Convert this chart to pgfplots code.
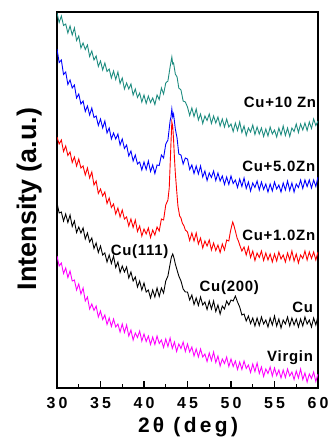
\documentclass[border=0pt]{standalone}
\usepackage{pgfplots}
\pgfplotsset{compat=1.18}
\usepackage{fontspec}
\setmainfont{Liberation Sans}
\definecolor{tealc}{RGB}{30,140,128}
\definecolor{magc}{RGB}{255,0,255}
\begin{document}
\begin{tikzpicture}
\useasboundingbox (-57bp,-54bp) rectangle (275bp,388bp);
\begin{axis}[
 scale only axis, width=261bp, height=376bp,
 xmin=30, xmax=60, ymin=0, ymax=376,
 ytick=\empty,
 xtick={30,35,...,60}, xticklabels={30,35,40,45,50,55,60},
 minor x tick num=1,
 xtick pos=bottom, tick align=inside,
 major tick length=7bp, minor tick length=3.5bp,
 axis line style={line width=1.6bp},
 every tick/.style={line width=1.2bp, black},
 xticklabel style={font=\fontsize{16}{16}\selectfont\bfseries\addfontfeatures{LetterSpace=20}, anchor=base, yshift=-20.5bp, inner sep=0pt},
 every axis plot/.append style={line width=0.9bp},
 every node/.append style={inner sep=0pt},
]
% Cu+10 Zn
\addplot[tealc] coordinates {
(30,375)(30.25,365.5)(30.5,372)(30.75,362.5)(31,364)(31.25,355)(31.5,362)(31.75,353)(32,360)(32.25,347.5)
(32.5,352)(32.75,340)(33,345)(33.25,338.5)(33.5,343)(33.75,331.5)(34,337)(34.25,328)(34.5,332)(34.75,321.5)
(35,327)(35.25,318)(35.5,325)(35.75,316.5)(36,319)(36.25,310)(36.5,317)(36.75,308.5)(37,316)(37.25,304.5)
(37.5,310)(37.75,299)(38,305)(38.25,299)(38.5,304)(38.75,293)(39,299)(39.25,290.5)(39.5,295)(39.75,286)
(40,293)(40.25,284.5)(40.5,292)(40.75,285.5)(41,290)(41.25,283.5)(41.5,293)(41.75,288.5)(42,300)(42.25,294)
(42.5,305)(42.75,307)(43,321)(43.1,326)(43.2,331)(43.3,324)(43.4,325)(43.6,314)(43.8,311)(44,300)(44.25,298)
(44.5,287)(44.75,286)(45,281)(45.25,272.5)(45.5,280)(45.75,271.5)(46,279)(46.25,268)(46.5,274)(46.75,264.5)
(47,272)(47.25,267.5)(47.5,274)(47.75,264.5)(48,272)(48.25,265)(48.5,271)(48.75,262)(49,269)(49.25,261)
(49.5,269)(49.75,261)(50,264)(50.25,256.5)(50.5,265)(50.75,257.5)(51,266)(51.25,255.5)(51.5,262)(51.75,252.5)
(52,260)(52.25,256)(52.5,263)(52.75,253.5)(53,261)(53.25,254)(53.5,260)(53.75,251.5)(54,259)(54.25,252)
(54.5,261)(54.75,254)(55,258)(55.25,251)(55.5,260)(55.75,253)(56,262)(56.25,252.5)(56.5,260)(56.75,251.5)
(57,260)(57.25,256.5)(57.5,264)(57.75,255.5)(58,264)(58.25,258)(58.5,265)(58.75,257.5)(59,266)(59.25,259.5)
(59.5,269)(59.75,262.5)(60,267)};
% Cu+5.0Zn
\addplot[blue] coordinates {
(30,339)(30.25,325.5)(30.5,328)(30.75,313.5)(31,316)(31.25,303.5)(31.5,308)(31.75,300)(32,303)(32.25,290)
(32.5,294)(32.75,284)(33,287)(33.25,276.5)(33.5,282)(33.75,273)(34,280)(34.25,270.5)(34.5,272)(34.75,262.5)
(35,269)(35.25,260)(35.5,267)(35.75,255)(36,260)(36.25,249)(36.5,255)(36.75,249)(37,254)(37.25,243)
(37.5,249)(37.75,239.5)(38,243)(38.25,232)(38.5,237)(38.75,227)(39,233)(39.25,224)(39.5,226)(39.75,218)
(40,226)(40.25,218.5)(40.5,227)(40.75,216.5)(41,223)(41.25,214.5)(41.5,223)(41.75,222.5)(42,233)(42.25,230)
(42.5,244)(42.75,248)(43,267)(43.1,271)(43.2,279)(43.3,271)(43.4,274)(43.6,259)(43.8,250)(44,234)(44.25,233)
(44.5,224)(44.75,230)(45,229)(45.25,218.5)(45.5,223)(45.75,214.5)(46,222)(46.25,214)(46.5,222)(46.75,211)
(47,217)(47.25,207.5)(47.5,215)(47.75,210.5)(48,217)(48.25,207.5)(48.5,215)(48.75,207)(49,212)(49.25,203.5)
(49.5,211)(49.75,203.5)(50,212)(50.25,204.5)(50.5,208)(50.75,200.5)(51,209)(51.25,201.5)(51.5,210)(51.75,199.5)
(52,206)(52.25,197)(52.5,205)(52.75,200.5)(53,207)(53.25,198)(53.5,206)(53.75,198.5)(54,204)(54.25,196)
(54.5,204)(54.75,197)(55,206)(55.25,199)(55.5,203)(55.75,196)(56,205)(56.25,198)(56.5,207)(56.75,197.5)
(57,205)(57.25,196)(57.5,204)(57.75,200.5)(58,208)(58.25,199.5)(58.5,208)(58.75,201.5)(59,208)(59.25,200)
(59.5,208)(59.75,201.5)(60,211)};
% Cu+1.0Zn
\addplot[red] coordinates {
(30,251)(30.25,244)(30.5,248)(30.75,236.5)(31,242)(31.25,232.5)(31.5,236)(31.75,225.5)(32,231)(32.25,222)
(32.5,229)(32.75,220)(33,222)(33.25,213)(33.5,220)(33.75,210)(34,216)(34.25,203)(34.5,207)(34.75,194.5)
(35,199)(35.25,192)(35.5,196)(35.75,184.5)(36,190)(36.25,180.5)(36.5,184)(36.75,174)(37,180)(37.25,171)
(37.5,178)(37.75,169)(38,171)(38.25,162)(38.5,169)(38.75,160.5)(39,168)(39.25,156.5)(39.5,162)(39.75,152)
(40,159)(40.25,154)(40.5,160)(40.75,150.5)(41,158)(41.25,153)(41.5,161)(41.75,157)(42,169)(42.25,168)
(42.5,183)(42.75,188)(42.9,200)(43,222)(43.1,245)(43.2,266)(43.3,262)(43.4,248)(43.5,230)(43.6,215)
(43.75,198)(43.9,182)(44.1,172)(44.25,170)(44.4,165)(44.6,162)(44.75,158)
(45,156)(45.25,147.5)(45.5,155)(45.75,147)(46,155)(46.25,144)(46.5,150)(46.75,140)(47,147)(47.25,142)
(47.5,148)(47.75,138)(48,145)(48.25,137.5)(48.5,143)(48.75,135.5)(49,144)(49.25,138)(49.5,148)
(49.75,147)(49.9,155)(50.05,161)(50.2,166)(50.35,162)(50.5,157)(50.7,150)(50.85,147)(51,143)(51.25,137)
(51.5,141)(51.75,133)(52,141)(52.25,130.5)(52.5,137)(52.75,127.5)(53,135)(53.25,130.5)(53.5,137)(53.75,127.5)
(54,135)(54.25,128)(54.5,134)(54.75,126)(55,134)(55.25,127)(55.5,136)(55.75,129)(56,133)(56.25,126)
(56.5,135)(56.75,128)(57,137)(57.25,127)(57.5,134)(57.75,125)(58,133)(58.25,129.5)(58.5,137)(58.75,128)
(59,136)(59.25,129.5)(59.5,136)(59.75,128)(60,136)};
% Cu
\addplot[black] coordinates {
(30,185)(30.25,175)(30.5,176)(30.75,167)(31,174)(31.25,165.5)(31.5,173)(31.75,161.5)(32,167)(32.25,155.5)
(32.5,161)(32.75,155)(33,160)(33.25,149)(33.5,155)(33.75,146)(34,150)(34.25,139.5)(34.5,145)(34.75,135.5)
(35,142)(35.25,133)(35.5,135)(35.75,126)(36,133)(36.25,124.5)(36.5,132)(36.75,120.5)(37,126)(37.25,115.5)
(37.5,122)(37.75,116)(38,121)(38.25,110)(38.5,116)(38.75,107)(39,111)(39.25,101)(39.5,107)(39.75,98)
(40,105)(40.25,96)(40.5,98)(40.75,90)(41,98)(41.25,91)(41.5,100)(41.75,91.5)(42,100)(42.25,95)
(42.5,107)(42.75,112)(43,124)(43.15,131)(43.3,134)(43.45,130)(43.6,124)(43.8,118)(44,112)(44.25,107)
(44.5,99)(44.75,96)(45,96)(45.25,88)(45.5,93)(45.75,83.5)(46,90)(46.25,82.5)(46.5,91)(46.75,83)
(47,86)(47.25,78.5)(47.5,87)(47.75,79)(48,87)(48.25,76.5)(48.5,83)(48.75,74)(49,82)(49.25,79)(49.5,87)
(49.75,83)(50,88)(50.25,87)(50.5,92)(50.75,86)(51,81)(51.25,73)(51.5,74)(51.75,67)
(52,72)(52.25,64.5)(52.5,70)(52.75,62)(53,70)(53.25,62.5)(53.5,71)(53.75,64)(54,68)(54.25,61)
(54.5,70)(54.75,63)(55,72)(55.25,62)(55.5,69)(55.75,60)(56,68)(56.25,64)(56.5,71)(56.75,62)
(57,70)(57.25,63)(57.5,69)(57.75,61)(58,69)(58.25,62)(58.5,71)(58.75,64)(59,68)(59.25,61)
(59.5,70)(59.75,63)(60,72)};
% Virgin
\addplot[magc] coordinates {
(30,132)(30.25,122)(30.5,125)(30.75,114.5)(31,120)(31.25,110.5)(31.5,117)(31.75,107)(32,108)(32.25,98)
(32.5,104)(32.75,94)(33,100)(33.25,87)(33.5,91)(33.75,79)(34,84)(34.25,77.5)(34.5,82)(34.75,71)
(35,77)(35.25,68.5)(35.5,73)(35.75,63.5)(36,70)(36.25,61.5)(36.5,69)(36.75,61)(37,64)(37.25,56)
(37.5,64)(37.75,55.5)(38,63)(38.25,52)(38.5,58)(38.75,48)(39,55)(39.25,50.5)(39.5,57)(39.75,47)
(40,54)(40.25,46.5)(40.5,52)(40.75,43.5)(41,51)(41.25,43.5)(41.5,52)(41.75,44.5)(42,48)(42.25,40.5)
(42.5,49)(42.75,41.5)(43,50)(43.25,39.5)(43.5,46)(43.75,36.5)(44,44)(44.25,39.5)(44.5,46)(44.75,36.5)
(45,44)(45.25,36)(45.5,41)(45.75,32)(46,39)(46.25,31)(46.5,39)(46.75,31)(47,34)(47.25,26.5)
(47.5,35)(47.75,27.5)(48,36)(48.25,25.5)(48.5,32)(48.75,22)(49,29)(49.25,24.5)(49.5,31)(49.75,21.5)
(50,29)(50.25,21.5)(50.5,27)(50.75,18.5)(51,26)(51.25,18.5)(51.5,27)(51.75,19.5)(52,23)(52.25,15.5)
(52.5,24)(52.75,16.5)(53,25)(53.25,14.5)(53.5,21)(53.75,11.5)(54,19)(54.25,14.5)(54.5,21)(54.75,12)
(55,20)(55.25,12.5)(55.5,18)(55.75,10)(56,18)(56.25,10.5)(56.5,19)(56.75,12)(57,16)(57.25,8.5)
(57.5,17)(57.75,10)(58,19)(58.25,8.5)(58.5,15)(58.75,6)(59,14)(59.25,9.5)(59.5,16)(59.75,6.5)(60,14)};
\begin{scope}[every node/.style={inner sep=0pt, font=\fontsize{15}{15}\selectfont\bfseries\addfontfeatures{LetterSpace=5}}]
\node[anchor=base east] at (axis cs:59.8,280) {Cu+10 Zn};
\node[anchor=base east] at (axis cs:59.7,216) {Cu+5.0Zn};
\node[anchor=base east] at (axis cs:59.7,147) {Cu+1.0Zn};
\node[anchor=base east] at (axis cs:59.45,75) {Cu};
\node[anchor=base east] at (axis cs:59.45,27) {Virgin};
\node[anchor=base] at (axis cs:39.5,132) {Cu(111)};
\node[anchor=base] at (axis cs:49.8,96) {Cu(200)};
\end{scope}
\end{axis}
\node[rotate=90, anchor=base, inner sep=0pt, font=\fontsize{27}{27}\selectfont\bfseries] at (-21bp,189bp) {Intensity (a.u.)};
\node[anchor=base, inner sep=0pt, font=\fontsize{21}{21}\selectfont\bfseries\addfontfeatures{LetterSpace=16}] at (131bp,-44bp) {2θ (deg)};
\end{tikzpicture}
\end{document}
